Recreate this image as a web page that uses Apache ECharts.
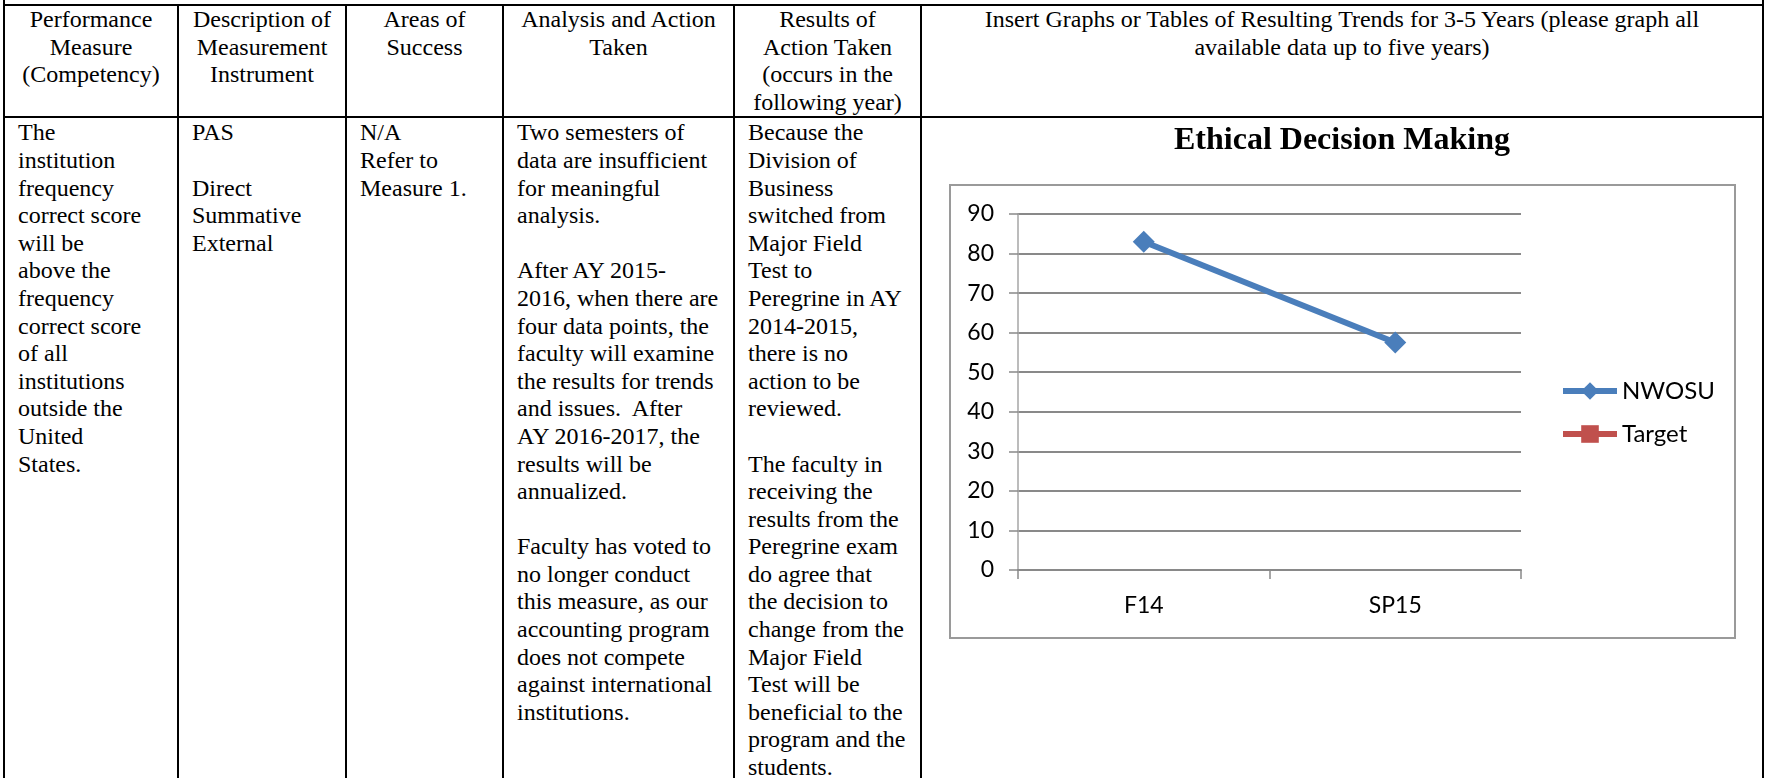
<!DOCTYPE html>
<html>
<head>
<meta charset="utf-8">
<title>Ethical Decision Making</title>
<script src="https://cdn.jsdelivr.net/npm/echarts@6/dist/echarts.min.js"></script>
<style>
  html, body { margin: 0; padding: 0; background: #fff; }
  body { width: 1765px; height: 778px; overflow: hidden; position: relative; }
  table {
    position: absolute; left: 3px; top: -20px;
    border-collapse: collapse; table-layout: fixed; width: 1761px;
    font-family: "Liberation Serif", "Times New Roman", serif;
    font-size: 24px; line-height: 27.6px; color: #000;
  }
  td, th { border: 2px solid #000; vertical-align: top; padding: 0 6px 0 13px; white-space: nowrap; font-weight: normal; }
  th { text-align: center; padding: 0 4px; }
  tr.prev td { height: 22px; border-bottom-width: 2px; }
  tr.head th { height: 110px; }
  tr.main td { height: 700px; padding-top: 1px; }
  #chart { position: absolute; left: 924px; top: 118px; width: 836px; height: 560px; }
</style>
</head>
<body>
<table>
  <colgroup>
    <col style="width:174px"><col style="width:168px"><col style="width:157px">
    <col style="width:231px"><col style="width:187px"><col style="width:842px">
  </colgroup>
  <tr class="prev"><td colspan="6"></td></tr>
  <tr class="head">
    <th>Performance<br>Measure<br>(Competency)</th>
    <th>Description of<br>Measurement<br>Instrument</th>
    <th>Areas of<br>Success</th>
    <th>Analysis and Action<br>Taken</th>
    <th>Results of<br>Action Taken<br>(occurs in the<br>following year)</th>
    <th>Insert Graphs or Tables of Resulting Trends for 3-5 Years (please graph all<br>available data up to five years)</th>
  </tr>
  <tr class="main">
    <td>The<br>institution<br>frequency<br>correct score<br>will be<br>above the<br>frequency<br>correct score<br>of all<br>institutions<br>outside the<br>United<br>States.</td>
    <td>PAS<br><br>Direct<br>Summative<br>External</td>
    <td>N/A<br>Refer to<br>Measure 1.</td>
    <td>Two semesters of<br>data are insufficient<br>for meaningful<br>analysis.<br><br>After AY 2015-<br>2016, when there are<br>four data points, the<br>faculty will examine<br>the results for trends<br>and issues.&nbsp; After<br>AY 2016-2017, the<br>results will be<br>annualized.<br><br>Faculty has voted to<br>no longer conduct<br>this measure, as our<br>accounting program<br>does not compete<br>against international<br>institutions.</td>
    <td>Because the<br>Division of<br>Business<br>switched from<br>Major Field<br>Test to<br>Peregrine in AY<br>2014-2015,<br>there is no<br>action to be<br>reviewed.<br><br>The faculty in<br>receiving the<br>results from the<br>Peregrine exam<br>do agree that<br>the decision to<br>change from the<br>Major Field<br>Test will be<br>beneficial to the<br>program and the<br>students.</td>
    <td></td>
  </tr>
</table>
<div id="chart"></div>
<script>
  // chart data
  const categories = ['F14', 'SP15'];
  const nwosuScores = [83, 57.5];
  const targetScores = [null, null];
  const seriesNames = ['NWOSU', 'Target'];

  const labelFont = 'Lato, "Noto Sans", sans-serif';
  const gridGray = '#898989';

  const chart = echarts.init(document.getElementById('chart'));

  chart.setOption({
    animation: false,
    title: {
      text: 'Ethical Decision Making',
      left: 'center',
      top: 2,
      textStyle: { fontFamily: '"Liberation Serif", serif', fontWeight: 'bold', fontSize: 32, color: '#000' },
    },
    graphic: [
      {
        type: 'rect',
        silent: true,
        shape: { x: 26, y: 67, width: 785, height: 453 },
        style: { fill: 'none', stroke: '#9a9a9a', lineWidth: 2 },
      },
    ],
    legend: {
      orient: 'vertical',
      left: 631,
      top: 256,
      itemWidth: 54,
      itemHeight: 22,
      itemGap: 19,
      data: seriesNames,
      lineStyle: { width: 6 },
      textStyle: { fontFamily: labelFont, fontSize: 24, color: '#000', lineHeight: 24 },
    },
    grid: { left: 94, top: 96, width: 503, height: 356, containLabel: false },
    xAxis: {
      type: 'category',
      data: categories,
      boundaryGap: true,
      axisLine: { lineStyle: { color: gridGray, width: 2 } },
      axisTick: { show: true, length: 9, lineStyle: { color: gridGray, width: 1.5 } },
      axisLabel: { fontFamily: labelFont, fontSize: 23, color: '#000', margin: 24 },
    },
    yAxis: {
      type: 'value',
      min: 0,
      max: 90,
      interval: 10,
      axisLine: { show: true, lineStyle: { color: '#a6a6a6', width: 1.5 } },
      axisTick: { show: true, length: 9, lineStyle: { color: gridGray, width: 1.5 } },
      splitLine: { lineStyle: { color: gridGray, width: 2 } },
      axisLabel: { fontFamily: labelFont, fontSize: 23, color: '#000', margin: 24 },
    },
    series: [
      {
        name: seriesNames[0],
        type: 'line',
        data: nwosuScores,
        symbol: 'diamond',
        symbolSize: 22,
        lineStyle: { color: '#4a7ebb', width: 6 },
        itemStyle: { color: '#4a7ebb' },
      },
      {
        name: seriesNames[1],
        type: 'line',
        data: targetScores,
        symbol: 'rect',
        symbolSize: 14,
        lineStyle: { color: '#c0504d', width: 6 },
        itemStyle: { color: '#c0504d' },
      },
    ],
  });
</script>
</body>
</html>
